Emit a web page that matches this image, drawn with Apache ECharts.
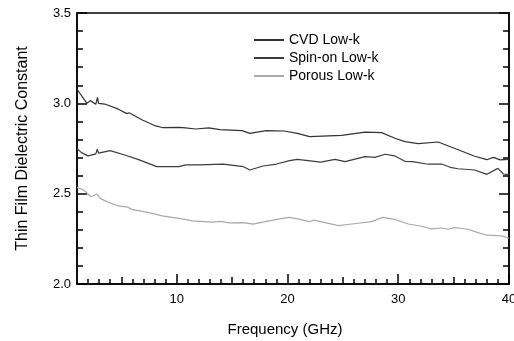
<!DOCTYPE html>
<html>
<head>
<meta charset="utf-8">
<script src="https://cdn.jsdelivr.net/npm/echarts@6/dist/echarts.min.js"></script>
<style>
  html, body { margin: 0; padding: 0; background: #fff; }
  #chart { width: 514px; height: 341px; }
</style>
</head>
<body>
<div id="chart"></div>
<script>
// 数据
var seriesNames = ['CVD Low-k', 'Spin-on Low-k', 'Porous Low-k'];
var xLabelTicks = [10, 20, 30, 40];
var xMidTicks = [5, 15, 25, 35];
var yLabelTicks = [2.0, 2.5, 3.0, 3.5];

var cvdFreq = [1, 1.9, 2.2, 2.7, 2.85, 2.95, 3.5, 4.7, 5.5, 5.7, 5.8, 6.9, 8.0, 8.7, 10.2, 10.8, 11.7, 12.9, 13.9, 15.9, 16.6, 18.1, 19.7, 20.9, 22.0, 24.9, 27.0, 28.5, 29.7, 30.6, 31.8, 33.6, 35.7, 36.9, 38.0, 38.6, 39.2, 40];
var cvdK = [3.078, 3.0, 3.015, 2.995, 3.033, 3.0, 2.996, 2.969, 2.943, 2.948, 2.937, 2.908, 2.877, 2.866, 2.867, 2.864, 2.858, 2.864, 2.854, 2.849, 2.834, 2.849, 2.847, 2.834, 2.816, 2.823, 2.841, 2.838, 2.807, 2.788, 2.777, 2.786, 2.736, 2.707, 2.688, 2.701, 2.687, 2.69];

var spinFreq = [1, 1.4, 2.0, 2.7, 2.83, 2.95, 4.0, 5.3, 6.5, 8.2, 10.2, 10.8, 12.0, 14.2, 16.0, 16.6, 17.8, 19.0, 20.2, 20.9, 23.0, 24.3, 25.2, 27.0, 27.9, 28.8, 29.7, 30.6, 31.3, 32.7, 33.9, 34.7, 35.4, 36.9, 38.0, 39.0, 39.5, 40];
var spinK = [2.751, 2.727, 2.709, 2.72, 2.746, 2.724, 2.738, 2.714, 2.69, 2.65, 2.65, 2.659, 2.659, 2.664, 2.65, 2.631, 2.653, 2.664, 2.683, 2.69, 2.675, 2.69, 2.677, 2.705, 2.701, 2.718, 2.709, 2.679, 2.677, 2.663, 2.664, 2.646, 2.638, 2.631, 2.607, 2.64, 2.609, 2.605];

var porousFreq = [1, 1.1, 1.6, 2.0, 2.25, 2.5, 2.8, 3.1, 3.7, 4.7, 5.6, 5.75, 5.95, 7.5, 8.7, 10.5, 11.4, 13.2, 13.9, 14.8, 16.0, 16.9, 18.1, 19.3, 20.2, 20.9, 22.0, 22.4, 24.6, 25.8, 27.6, 28.6, 29.7, 30.9, 32.0, 33.0, 33.9, 34.5, 35.1, 36.3, 37.2, 38.0, 39.3, 40];
var porousK = [2.535, 2.543, 2.52, 2.498, 2.483, 2.49, 2.498, 2.474, 2.456, 2.432, 2.425, 2.432, 2.413, 2.395, 2.377, 2.36, 2.349, 2.342, 2.347, 2.338, 2.34, 2.331, 2.347, 2.36, 2.369, 2.36, 2.345, 2.354, 2.323, 2.332, 2.345, 2.369, 2.358, 2.332, 2.321, 2.305, 2.31, 2.303, 2.312, 2.303, 2.284, 2.27, 2.266, 2.253];

function pairs(xs, ys) {
    var out = [];
    for (var i = 0; i < xs.length; i++) {
        out.push([xs[i], ys[i]]);
    }
    return out;
}

// 小刻度：除 5 的倍数以外的整数
var xMinorTicks = [];
for (var v = 2; v < 40; v++) {
    if (v % 5 !== 0) xMinorTicks.push(v);
}

var font = 'Liberation Sans, Arial, Helvetica, sans-serif';
var black = '#000';

var chart = echarts.init(document.getElementById('chart'), null, {renderer: 'canvas'});

function bottomAxis(ticks, len, extra) {
    var ax = {
        type: 'value',
        position: 'bottom',
        min: 1,
        max: 40,
        axisLine: {show: false},
        axisTick: {show: true, inside: true, length: len, customValues: ticks,
            lineStyle: {color: black, width: 1.5}},
        axisLabel: {show: false},
        splitLine: {show: false}
    };
    return Object.assign(ax, extra || {});
}

function sideAxis(pos, extra) {
    var ax = {
        type: 'value',
        position: pos,
        min: 2,
        max: 3.5,
        interval: 0.5,
        axisLine: {show: true, lineStyle: {color: black, width: 1.5}},
        axisTick: {show: true, inside: true, length: 10, lineStyle: {color: black, width: 1.5}},
        minorTick: {show: true, splitNumber: 5, length: 6, lineStyle: {color: black, width: 1.5}},
        axisLabel: {show: false},
        splitLine: {show: false},
        minorSplitLine: {show: false}
    };
    return Object.assign(ax, extra || {});
}

chart.setOption({
    animation: false,
    backgroundColor: '#fff',
    textStyle: {fontFamily: font},
    grid: {
        left: 77, right: 5, top: 13, bottom: 57,
        outerBoundsMode: 'none',
        containLabel: false,
        show: true, borderColor: black, borderWidth: 1.5
    },
    legend: {
        orient: 'vertical',
        left: 248,
        top: 28,
        itemWidth: 30,
        itemHeight: 14,
        itemGap: 4,
        data: seriesNames,
        itemStyle: {opacity: 0},
        textStyle: {fontFamily: font, fontSize: 14, color: black, lineHeight: 14}
    },
    xAxis: [
        bottomAxis(xMidTicks, 7, {
            axisLine: {show: true, lineStyle: {color: black, width: 1.5}},
            axisLabel: {show: true, customValues: xLabelTicks, color: black,
                fontFamily: font, fontSize: 13, margin: 9},
            name: 'Frequency (GHz)',
            nameLocation: 'middle',
            nameGap: 38,
            nameTextStyle: {fontFamily: font, fontSize: 15, color: black, padding: [0, 16, 0, 0]}
        }),
        bottomAxis(xLabelTicks, 10),
        bottomAxis(xMinorTicks, 5)
    ],
    yAxis: [
        sideAxis('left', {
            axisLabel: {show: true, color: black, fontFamily: font, fontSize: 13, margin: 6,
                customValues: yLabelTicks,
                formatter: function (val) { return val.toFixed(1); }},
            name: 'Thin Film Dielectric Constant',
            nameLocation: 'middle',
            nameGap: 46,
            nameTextStyle: {fontFamily: font, fontSize: 16, color: black}
        }),
        sideAxis('right')
    ],
    series: [
        {
            name: seriesNames[0], type: 'line', xAxisIndex: 0, yAxisIndex: 0,
            data: pairs(cvdFreq, cvdK), symbol: 'none',
            itemStyle: {color: '#333'}, lineStyle: {color: '#333', width: 1.2}
        },
        {
            name: seriesNames[1], type: 'line', xAxisIndex: 0, yAxisIndex: 0,
            data: pairs(spinFreq, spinK), symbol: 'none',
            itemStyle: {color: '#3c3c3c'}, lineStyle: {color: '#3c3c3c', width: 1.2}
        },
        {
            name: seriesNames[2], type: 'line', xAxisIndex: 0, yAxisIndex: 0,
            data: pairs(porousFreq, porousK), symbol: 'none',
            itemStyle: {color: '#aaa'}, lineStyle: {color: '#aaa', width: 1.2}
        }
    ]
});
</script>
</body>
</html>
